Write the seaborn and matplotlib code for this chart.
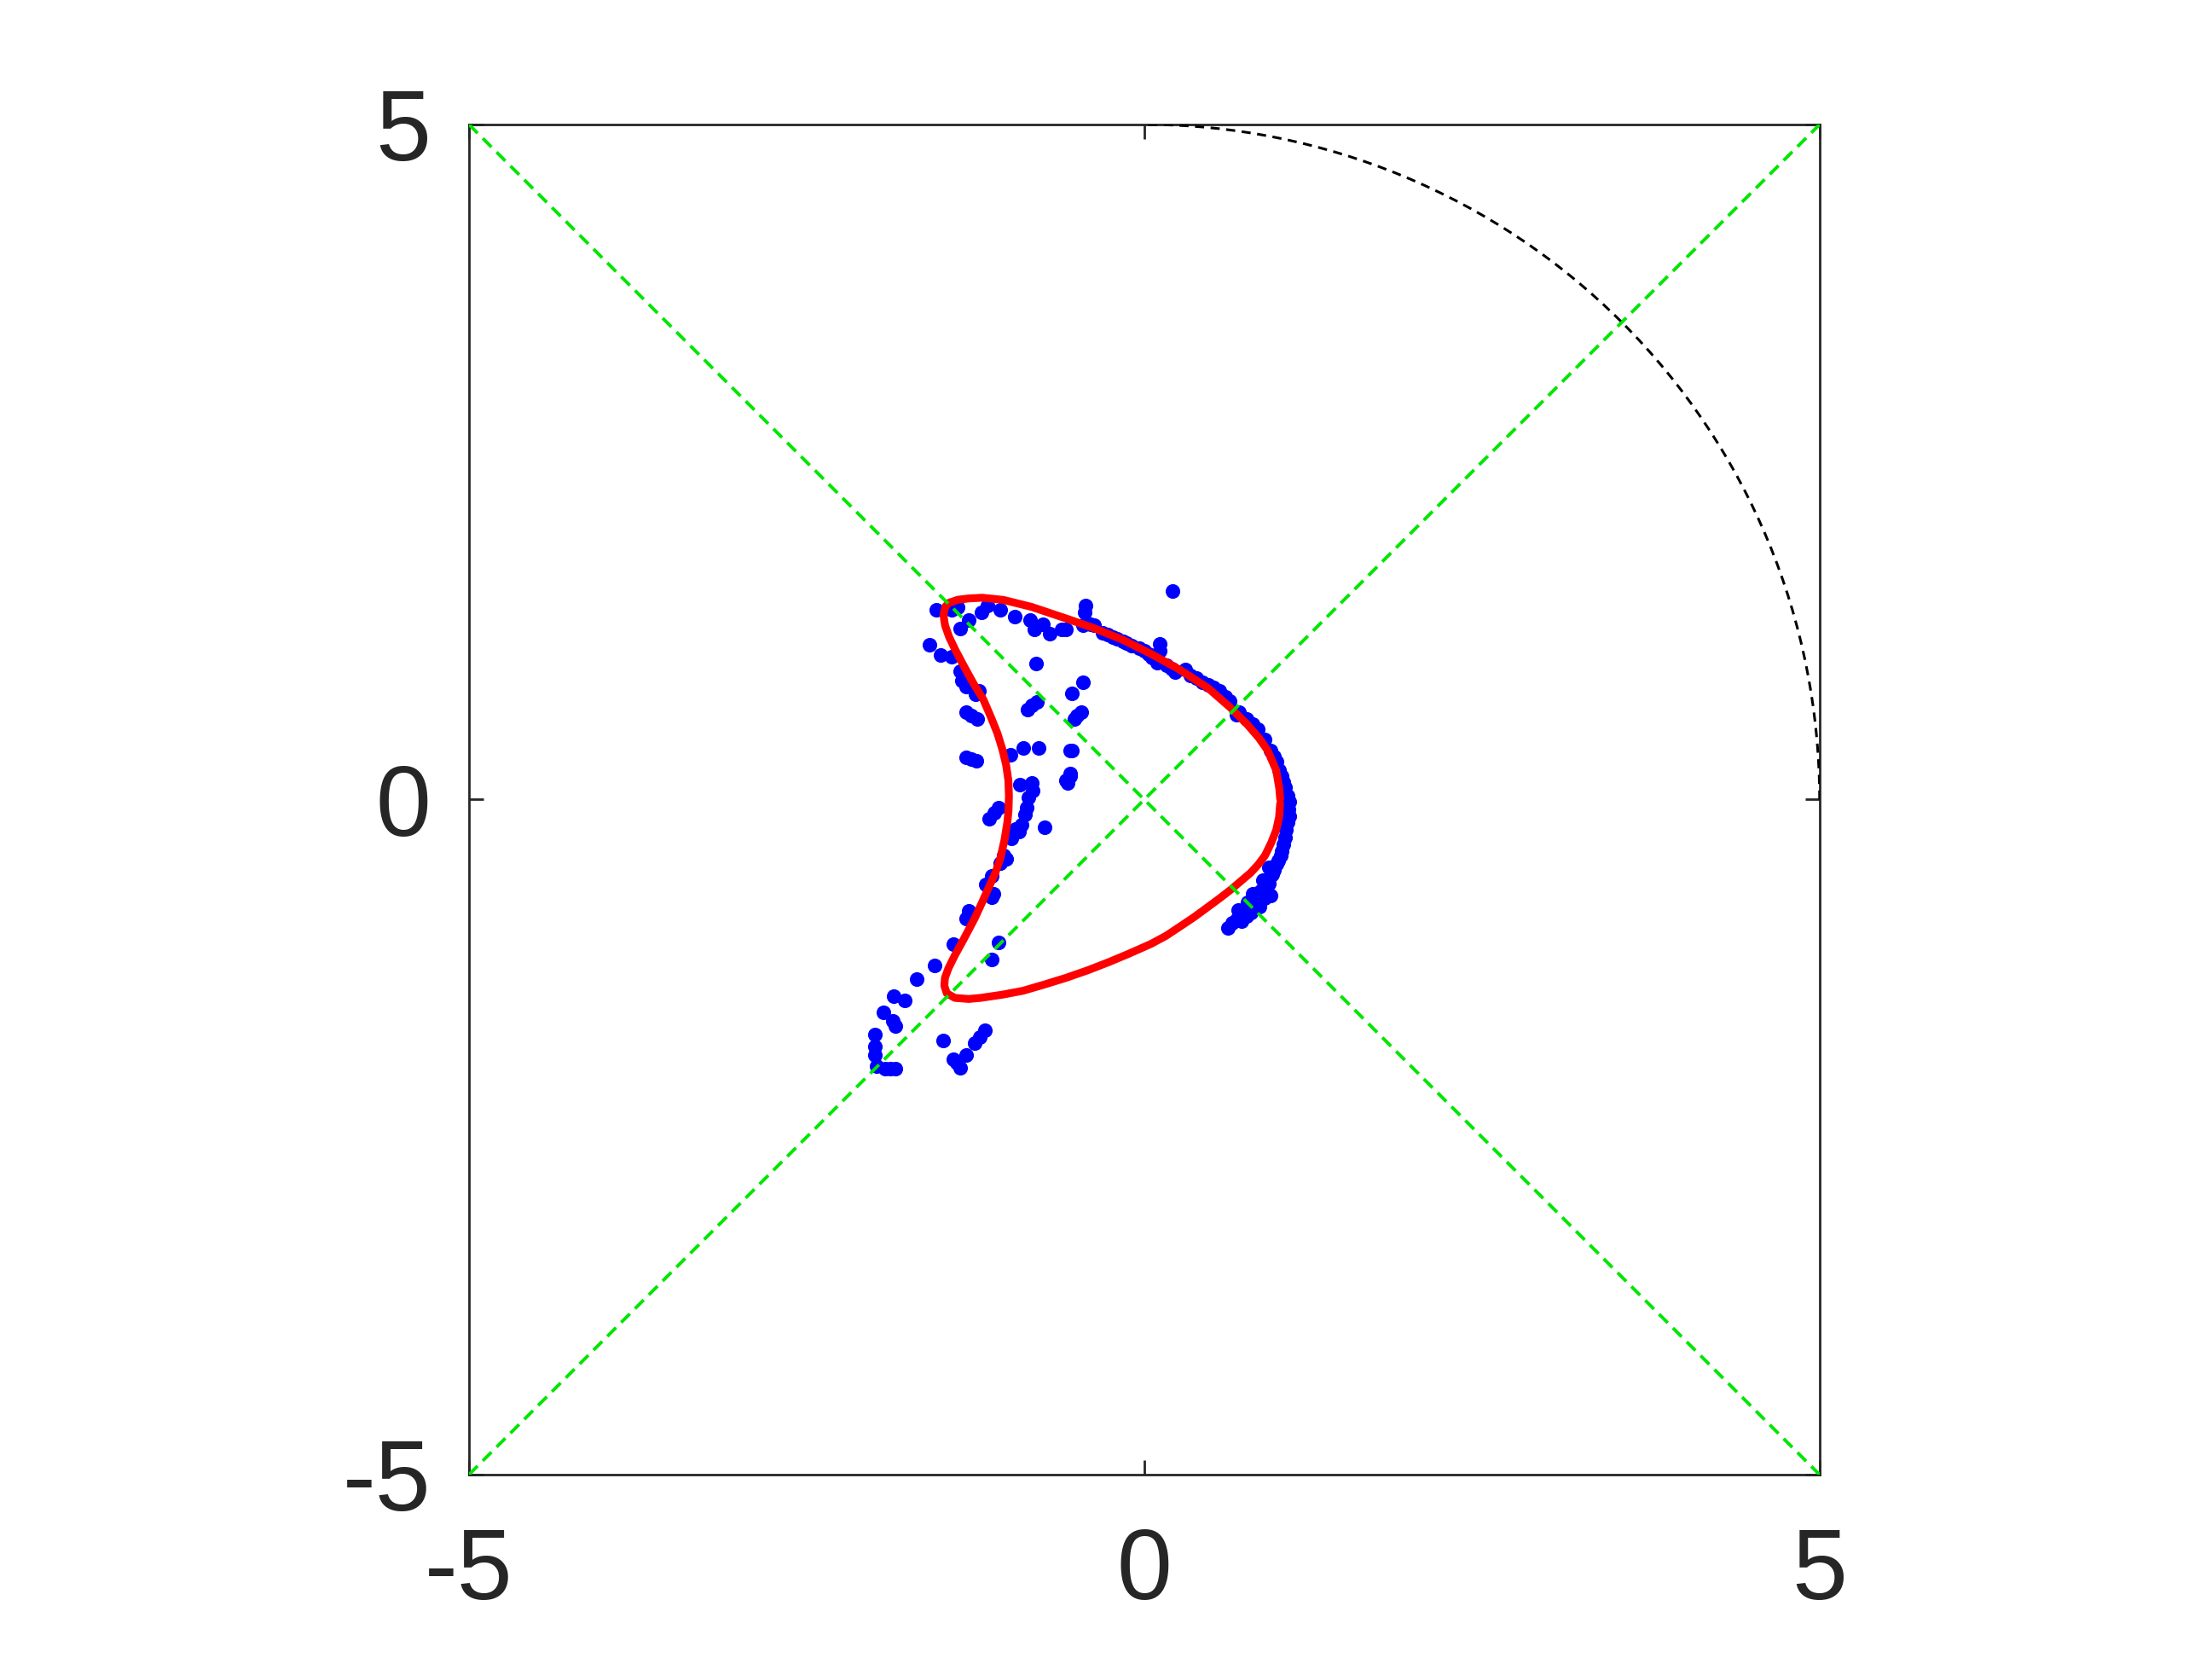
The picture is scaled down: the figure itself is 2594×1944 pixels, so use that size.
import matplotlib
matplotlib.use("Agg")
import matplotlib.pyplot as plt
from matplotlib.patches import Arc
import pandas as pd
import seaborn as sns

# blue measured points
dots_x = [-1.539, -1.423, -1.381, -1.36, -1.297, -1.202, -1.16, -1.066, -0.96, -0.845,
          -0.813, -0.75, -0.697, -0.613, -1.592, -1.508, -1.424, -1.36, -1.318, -1.224,
          -1.35, -1.25, -1.318, -1.234, -1.28, -0.802, -0.865, -0.792, -0.83,
          0.208, -0.434, -0.44, -0.455, -0.371, -0.4, -0.307, -0.27, -0.234, -0.2, -0.16,
          -0.13, -0.097, -0.034, 0.0, 0.03, 0.06, 0.114, 0.114, 0.093, 0.166, 0.2, 0.229,
          0.303, 0.34, 0.387, 0.43, 0.472, 0.51, 0.556, 0.6, 0.63, 0.68, 0.7, 0.756, 0.80,
          0.84, 0.893, -0.455, -0.539, -0.465, -0.518, -0.58, -0.5,
          0.935, 0.96, 0.977, 1.0, 1.019, 1.03, 1.04, 1.06, 1.072, 1.07, 1.072, 1.06, 1.05,
          1.04, 1.03, 1.02, 1.009, 0.99, 0.977, 0.96, 0.935, 0.95, 0.92, 0.91, 0.893, 0.88,
          0.92, 0.86, 0.87, 0.829, 0.84, 0.80, 0.80, 0.766, 0.78, 0.85, 0.82, 0.76, 0.72, 0.69,
          0.619, 0.65, 0.693, 0.72, 0.788, 0.851, 0.893, 0.935, 0.77,
          -0.539, -0.55, -0.57,
          -1.318, -1.28, -1.244, -0.992, -0.897, -0.781, -0.55, -0.581, -0.55, -0.918,
          -0.834, -0.824, -0.855, -0.87, -1.076, -1.11, -1.15, -0.886, -0.907, -0.93, -0.95,
          -0.981, -0.739, -1.02, -1.044, -1.065, -1.129, -1.171, -1.118,
          -1.129, -1.297, -1.318, -1.413, -1.55, -1.687, -1.855, -1.771, -1.929, -1.862,
          -1.845, -1.992, -1.992, -1.992, -1.982, -1.918, -1.88, -1.845, -1.076, -1.129,
          -1.487, -1.181, -1.22, -1.255, -1.318, -1.39, -1.413, -1.36]
dots_y = [1.406, 1.406, 1.427, 1.269, 1.332, 1.385, 1.437, 1.406, 1.353, 1.332,
          1.258, 1.3, 1.227, 1.258, 1.147, 1.069, 1.058, 0.953, 0.837, 0.805,
          0.879, 0.78, 0.647, 0.595, 0.62, 1.006, 0.668, 0.725, 0.70,
          1.547, 1.437, 1.385, 1.29, 1.29, 1.30, 1.237, 1.22, 1.205, 1.19, 1.174,
          1.16, 1.142, 1.121, 1.10, 1.079, 1.05, 1.153, 1.1, 1.016, 0.995, 0.97, 0.942,
          0.963, 0.92, 0.9, 0.87, 0.848, 0.83, 0.805, 0.76, 0.732, 0.63, 0.65, 0.595, 0.56,
          0.521, 0.447, 0.869, 0.785, 0.647, 0.595, 1.26, 0.62,
          0.363, 0.32, 0.279, 0.22, 0.174, 0.13, 0.09, 0.03, -0.016, -0.07, -0.121, -0.17, -0.226,
          -0.28, -0.332, -0.38, -0.416, -0.45, -0.479, -0.52, -0.563, -0.55, -0.5, -0.60, -0.647, -0.60,
          -0.62, -0.68, -0.72, -0.711, -0.70, -0.74, -0.70, -0.763, -0.80, -0.77, -0.80, -0.86, -0.84, -0.88,
          -0.953, -0.91, -0.816, -0.9, -0.837, -0.795, -0.732, -0.711, -0.763,
          0.363, 0.174, 0.12,
          0.311, 0.30, 0.289, 0.332, 0.384, 0.384, 0.363, 0.142, 0.195, 0.111,
          0.121, 0.068, 0.016, -0.06, -0.058, -0.10, -0.142, -0.111, -0.184, -0.24, -0.216,
          -0.289, -0.205, -0.44, -0.416, -0.469, -0.563, -0.626, -0.7,
          -0.721, -0.826, -0.879, -1.069, -1.227, -1.332, -1.458, -1.49, -1.574, -1.64,
          -1.679, -1.742, -1.827, -1.89, -1.974, -1.995, -1.995, -1.995, -1.058, -1.184,
          -1.785, -1.711, -1.76, -1.805, -1.89, -1.95, -1.922, -1.985]

# red closed curve (traced counter-clockwise from the right)
curve_x = [1.006, 1.0, 0.977, 0.914, 0.85, 0.766, 0.64, 0.472, 0.261, 0.05, -0.16,
           -0.371, -0.56, -0.834, -1.044, -1.2, -1.297, -1.38, -1.445, -1.472, -1.487,
           -1.475, -1.445, -1.40, -1.339, -1.265, -1.192, -1.135, -1.087, -1.05, -1.023,
           -1.006, -1.002, -1.005, -1.013, -1.035, -1.066, -1.105, -1.15, -1.20, -1.255,
           -1.34, -1.402, -1.45, -1.476, -1.48, -1.462, -1.402, -1.30, -1.213, -1.05,
           -0.897, -0.74, -0.581, -0.42, -0.265, -0.11, 0.05, 0.16, 0.261, 0.37, 0.472,
           0.56, 0.64, 0.72, 0.788, 0.845, 0.893, 0.94, 0.977, 0.998, 1.006]
curve_y = [0.005, 0.08, 0.216, 0.363, 0.455, 0.553, 0.679, 0.826, 0.963, 1.079, 1.184,
           1.269, 1.335, 1.427, 1.479, 1.495, 1.49, 1.48, 1.458, 1.43, 1.37,
           1.29, 1.205, 1.11, 0.995, 0.86, 0.742, 0.61, 0.49, 0.37, 0.258,
           0.14, 0.026, -0.08, -0.163, -0.30, -0.437, -0.55, -0.647, -0.76, -0.879,
           -1.04, -1.153, -1.25, -1.321, -1.38, -1.435, -1.469, -1.477, -1.469, -1.445,
           -1.416, -1.37, -1.321, -1.265, -1.205, -1.14, -1.069, -1.01, -0.943, -0.87, -0.795,
           -0.73, -0.668, -0.60, -0.542, -0.48, -0.416, -0.32, -0.226, -0.13, -0.03]

diag_x = [-5, 5]
diag_up_y = [-5, 5]
diag_down_y = [5, -5]
radius = 5

ticks = [-5, 0, 5]
tick_labels = ["-5", "0", "5"]

sns.set_style("white")
plt.rcParams['font.family'] = ['Liberation Sans', 'DejaVu Sans']
plt.rcParams['axes.unicode_minus'] = False

fig = plt.figure(figsize=(12.97, 9.72), dpi=200)
ax = fig.add_axes([0.2120, 0.1106, 0.6106, 0.8143])

sns.scatterplot(x=dots_x, y=dots_y, color='#0000ff', s=38, linewidth=0, ax=ax, zorder=2)

curve = pd.DataFrame({'x': curve_x, 'y': curve_y})
sns.lineplot(data=curve, x='x', y='y', sort=False, estimator=None, color='#ff0000',
             linewidth=3.3, ax=ax, zorder=3)

ax.plot(diag_x, diag_up_y, color='#00e600', lw=1.4, ls=(0, (3.7, 2.2)), zorder=4)
ax.plot(diag_x, diag_down_y, color='#00e600', lw=1.4, ls=(0, (3.7, 2.2)), zorder=4)
ax.add_patch(Arc((0, 0), 2 * radius, 2 * radius, theta1=0, theta2=90, color='k',
                 lw=1.1, ls=(0, (3.5, 2.5)), zorder=4))

ax.set_xlim(-5, 5)
ax.set_ylim(-5, 5)
ax.set_xticks(ticks)
ax.set_xticklabels(tick_labels)
ax.set_yticks(ticks)
ax.set_yticklabels(tick_labels)
ax.set_xlabel("")
ax.set_ylabel("")
ax.tick_params(direction='in', length=6, width=1, top=True, right=True, bottom=True,
               left=True, labelsize=42, colors='#262626')
ax.tick_params(axis='x', pad=22)
ax.tick_params(axis='y', pad=16)
for sp in ax.spines.values():
    sp.set_color('#262626')
    sp.set_linewidth(1)
    sp.set_visible(True)

fig.savefig("out.png", dpi=200, facecolor='white')
